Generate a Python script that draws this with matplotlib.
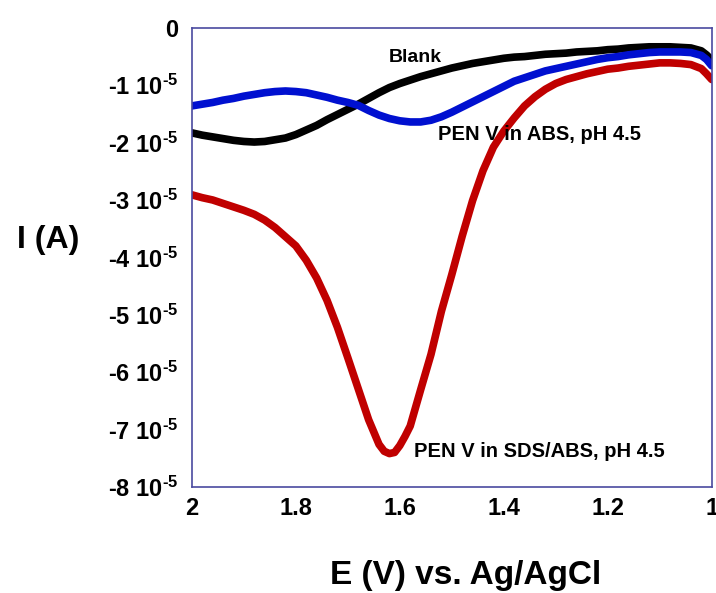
import numpy as np
import matplotlib
matplotlib.use('Agg')
import matplotlib.pyplot as plt
from matplotlib.ticker import FixedLocator, FuncFormatter

plt.rcParams['font.family'] = ['Liberation Sans', 'DejaVu Sans']
plt.rcParams['mathtext.fontset'] = 'custom'
plt.rcParams['mathtext.rm'] = 'Liberation Sans:bold'
plt.rcParams['mathtext.bf'] = 'Liberation Sans:bold'
plt.rcParams['mathtext.default'] = 'bf'

# potential (V) and current (units of 1e-5 A)
e_blank = [2.00, 1.98, 1.96, 1.94, 1.92, 1.90, 1.88, 1.86, 1.84, 1.82, 1.80, 1.78, 1.76, 1.74, 1.72,
           1.70, 1.68, 1.66, 1.64, 1.62, 1.60, 1.58, 1.56, 1.54, 1.52, 1.50, 1.48, 1.46, 1.44, 1.42,
           1.40, 1.38, 1.36, 1.34, 1.32, 1.30, 1.28, 1.26, 1.24, 1.22, 1.20, 1.18, 1.16, 1.14, 1.12,
           1.10, 1.08, 1.06, 1.04, 1.02, 1.01, 1.00]
i_blank = [-1.83, -1.87, -1.90, -1.93, -1.96, -1.98, -1.99, -1.98, -1.95, -1.92, -1.86, -1.78, -1.70, -1.60, -1.51,
           -1.42, -1.33, -1.23, -1.13, -1.04, -0.97, -0.91, -0.85, -0.80, -0.75, -0.70, -0.66, -0.62, -0.59, -0.56,
           -0.53, -0.51, -0.50, -0.48, -0.46, -0.45, -0.44, -0.42, -0.41, -0.40, -0.38, -0.37, -0.35, -0.34, -0.33,
           -0.33, -0.33, -0.34, -0.35, -0.40, -0.47, -0.56]

e_abs = e_blank
i_abs = [-1.36, -1.33, -1.30, -1.26, -1.23, -1.19, -1.16, -1.13, -1.11, -1.10, -1.11, -1.13, -1.17, -1.21, -1.26,
         -1.30, -1.35, -1.44, -1.52, -1.58, -1.62, -1.64, -1.64, -1.61, -1.55, -1.47, -1.38, -1.29, -1.20, -1.11,
         -1.02, -0.93, -0.87, -0.81, -0.75, -0.71, -0.67, -0.63, -0.59, -0.55, -0.52, -0.50, -0.47, -0.45, -0.43,
         -0.42, -0.42, -0.42, -0.43, -0.48, -0.55, -0.66]

e_sds = [2.00, 1.98, 1.96, 1.94, 1.92, 1.90, 1.88, 1.86, 1.84, 1.82, 1.80, 1.78, 1.76, 1.74, 1.72,
         1.70, 1.68, 1.66, 1.64, 1.63, 1.62, 1.61, 1.60, 1.59, 1.58, 1.56, 1.54, 1.52, 1.50, 1.48,
         1.46, 1.44, 1.42, 1.40, 1.38, 1.36, 1.34, 1.32, 1.30, 1.28, 1.26, 1.24, 1.22, 1.20, 1.18,
         1.16, 1.14, 1.12, 1.10, 1.08, 1.06, 1.04, 1.02, 1.01, 1.00]
i_sds = [-2.91, -2.96, -3.00, -3.06, -3.12, -3.18, -3.25, -3.35, -3.48, -3.64, -3.80, -4.05, -4.36, -4.75, -5.22,
         -5.75, -6.29, -6.83, -7.26, -7.38, -7.42, -7.40, -7.28, -7.12, -6.94, -6.31, -5.69, -4.94, -4.30, -3.63,
         -3.01, -2.49, -2.08, -1.80, -1.57, -1.36, -1.20, -1.07, -0.97, -0.90, -0.85, -0.80, -0.76, -0.72, -0.70,
         -0.67, -0.65, -0.63, -0.61, -0.61, -0.62, -0.64, -0.71, -0.80, -0.90]

y_ticks = [0, -1, -2, -3, -4, -5, -6, -7, -8]
x_ticks = [2, 1.8, 1.6, 1.4, 1.2, 1]
x_labels = ['2', '1.8', '1.6', '1.4', '1.2', '1']

fig = plt.figure(figsize=(7.16, 5.93), dpi=100)
ax = fig.add_axes([0.268, 0.179, 0.726, 0.774])

scale = 1e-5
ax.plot(e_blank, np.array(i_blank) * scale, color='black', lw=5.5, solid_capstyle='round')
ax.plot(e_abs, np.array(i_abs) * scale, color='#0010d0', lw=5.5, solid_capstyle='round')
ax.plot(e_sds, np.array(i_sds) * scale, color='#c00000', lw=5.5, solid_capstyle='round')

ax.set_xlim(2, 1)
ax.set_ylim(-8e-5, 0)

def ylab(v, pos):
    n = int(round(v / scale))
    if n == 0:
        return '0'
    return r'%d 10$^{\text{-5}}$' % n

ax.yaxis.set_major_locator(FixedLocator([t * scale for t in y_ticks]))
ax.yaxis.set_major_formatter(FuncFormatter(ylab))
ax.set_xticks(x_ticks)
ax.set_xticklabels(x_labels)
ax.tick_params(length=0, labelsize=17)
ax.tick_params(axis='y', pad=10)
ax.tick_params(axis='x', pad=7)
for lab in ax.get_xticklabels() + ax.get_yticklabels():
    lab.set_fontweight('bold')

for s in ax.spines.values():
    s.set_color('#4a4aa0')
    s.set_linewidth(1.2)

ax.text(1.621, -0.52 * scale, 'Blank', fontsize=14, fontweight='bold', va='center')
ax.text(1.527, -1.86 * scale, 'PEN V in ABS, pH 4.5', fontsize=14.5, fontweight='bold', va='center')
ax.text(1.573, -7.39 * scale, 'PEN V in SDS/ABS, pH 4.5', fontsize=14.5, fontweight='bold', va='center')

fig.text(0.067, 0.595, 'I (A)', fontsize=23, fontweight='bold', ha='center', va='center')
fig.text(0.651, 0.03, 'E (V) vs. Ag/AgCl', fontsize=24, fontweight='bold', ha='center', va='center')

fig.savefig('out.png', dpi=100)
